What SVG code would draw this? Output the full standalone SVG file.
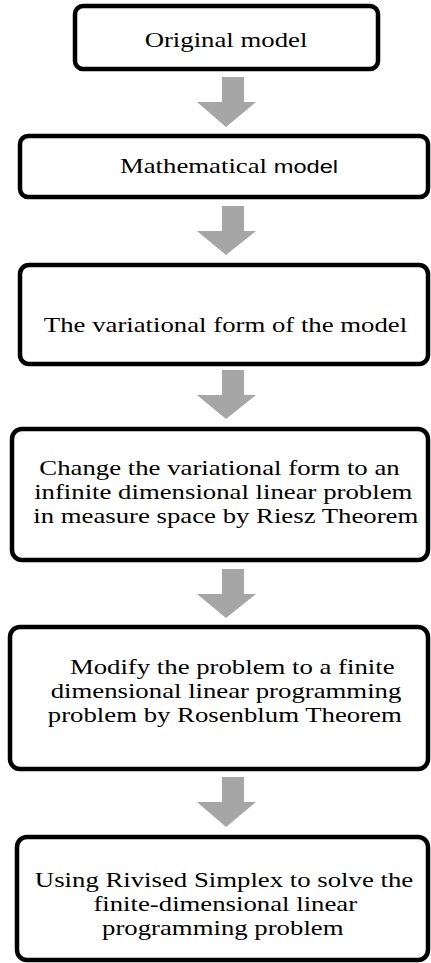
<svg xmlns="http://www.w3.org/2000/svg" width="431" height="963" viewBox="0 0 431 963">
<style>
.box{fill:#ffffff;stroke:#000000;stroke-width:4.5}
.t{font-family:"Liberation Serif","Times New Roman",serif;font-size:21.5px;fill:#000000;text-anchor:middle}
.s{font-family:"Liberation Sans",Arial,sans-serif;font-size:19px}
.arr{fill:#a6a6a6;stroke:none}
</style>
<rect width="431" height="963" fill="#ffffff"/>
<g id="connectors">
<polygon class="arr" points="222,77 244,77 244,102 256,102 226,127 197,102 222,102"/>
<polygon class="arr" points="222,206 244,206 244,231 256,231 226,255 197,231 222,231"/>
<polygon class="arr" points="222,370 244,370 244,395 256,395 226,419 197,395 222,395"/>
<polygon class="arr" points="222,569 244,569 244,594 256,594 226,618 197,594 222,594"/>
<polygon class="arr" points="222,777 244,777 244,802 256,802 226,827 197,802 222,802"/>
</g>
<g id="node1">
<rect class="box" x="75" y="6" width="303" height="63" rx="8"/>
<text class="t" transform="matrix(1.245 0 0 1 226 0)"><tspan x="0" y="47">Original model</tspan></text>
</g>
<g id="node2">
<rect class="box" x="20" y="136" width="408" height="61" rx="8"/>
<text class="t" transform="matrix(1.245 0 0 1 229 0)"><tspan x="0" y="173">Mathematical <tspan class="s">model</tspan></tspan></text>
</g>
<g id="node3">
<rect class="box" x="20" y="265" width="408" height="99" rx="9"/>
<text class="t" transform="matrix(1.245 0 0 1 225.5 0)"><tspan x="0" y="332">The variational form of the model</tspan></text>
</g>
<g id="node4">
<rect class="box" x="12" y="429" width="416" height="131" rx="10"/>
<text class="t" transform="matrix(1.245 0 0 1 222 0)"><tspan x="-2" y="475">Change the variational form to an</tspan><tspan x="1" y="499">infinite dimensional linear problem</tspan><tspan x="3" y="523">in measure space by Riesz Theorem</tspan></text>
</g>
<g id="node5">
<rect class="box" x="10" y="627" width="418" height="142" rx="10"/>
<text class="t" transform="matrix(1.245 0 0 1 226 0)"><tspan x="5" y="674">Modify the problem to a finite</tspan><tspan x="0" y="698">dimensional linear programming</tspan><tspan x="-1" y="722">problem by Rosenblum Theorem</tspan></text>
</g>
<g id="node6">
<rect class="box" x="17" y="837" width="411" height="123" rx="10"/>
<text class="t" transform="matrix(1.245 0 0 1 224 0)"><tspan x="0" y="887">Using Rivised Simplex to solve the</tspan><tspan x="1" y="911">finite-dimensional linear</tspan><tspan x="-1" y="935">programming problem</tspan></text>
</g>
</svg>
